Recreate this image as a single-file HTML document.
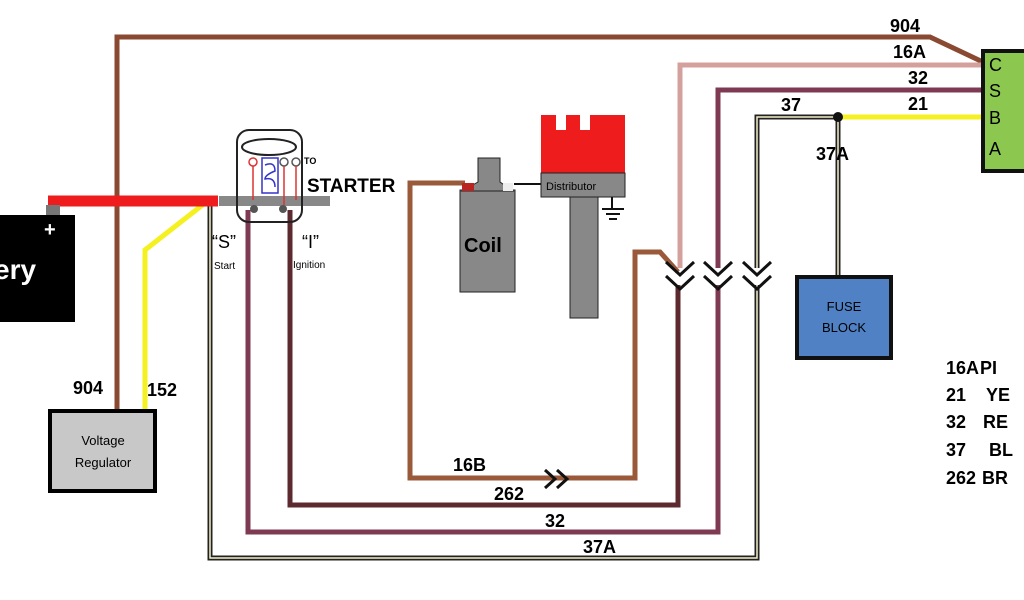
<!DOCTYPE html>
<html><head><meta charset="utf-8"><style>
html,body{margin:0;padding:0;background:#fff;width:1024px;height:600px;overflow:hidden}
text{font-family:"Liberation Sans",sans-serif;font-weight:bold}
.n{font-weight:normal}
</style></head><body>
<svg width="1024" height="600" viewBox="0 0 1024 600" xmlns="http://www.w3.org/2000/svg">
<g fill="none" stroke-linejoin="miter">
<polyline points="117,410 117,37 930,37 985,63" stroke="#8a4a32" stroke-width="5"/>
<polyline points="680,268 680,65 985,65" stroke="#d4a09c" stroke-width="5"/>
<polyline points="678,285 678,505 290,505 290,210" stroke="#5c2a2e" stroke-width="5"/>
<polyline points="718,268 718,90 985,90" stroke="#7e3a52" stroke-width="5"/>
<polyline points="718,285 718,532 248,532 248,210" stroke="#7e3a52" stroke-width="5"/>
<polyline points="757,268 757,117 838,117" stroke="#222" stroke-width="5"/>
<polyline points="757,268 757,117 838,117" stroke="#f4f2c8" stroke-width="1.5"/>
<polyline points="757,285 757,558 210,558 210,205" stroke="#222" stroke-width="5"/>
<polyline points="757,285 757,558 210,558 210,205" stroke="#f4f2c8" stroke-width="1.5"/>
<polyline points="838,117 838,275" stroke="#222" stroke-width="5"/>
<polyline points="838,117 838,275" stroke="#f4f2c8" stroke-width="1.5"/>
<line x1="838" y1="117" x2="985" y2="117" stroke="#f5f020" stroke-width="5"/>
<polyline points="465,183 410,183 410,478 635,478 635,252 660,252 678,272" stroke="#9a5a3a" stroke-width="5"/>
<polyline points="205,203 145,250 145,412" stroke="#f5f020" stroke-width="5"/>
<line x1="48" y1="201" x2="218" y2="201" stroke="#ee1c1c" stroke-width="11"/>
<rect x="46" y="205" width="14" height="10" fill="#777" stroke="none"/>
<g stroke="#111" stroke-width="3">
<polyline points="666,262 680,275 694,262"/><polyline points="666,276 680,289 694,276"/>
<polyline points="704,262 718,275 732,262"/><polyline points="704,276 718,289 732,276"/>
<polyline points="743,262 757,275 771,262"/><polyline points="743,276 757,289 771,276"/>
<polyline points="545,470 555,479 545,488"/><polyline points="557,470 567,479 557,488"/>
</g>
</g>
<circle cx="838" cy="117" r="5" fill="#111"/>
<rect x="-5" y="215" width="80" height="107" fill="#000"/>
<text x="44" y="236" fill="#fff" font-size="20">+</text>
<text x="-6" y="279" fill="#fff" font-size="28">ery</text>
<rect x="50" y="411" width="105" height="80" fill="#c8c8c8" stroke="#000" stroke-width="4"/>
<text x="103" y="445" font-size="13" text-anchor="middle" class="n">Voltage</text>
<text x="103" y="467" font-size="13" text-anchor="middle" class="n">Regulator</text>
<text x="73" y="394" font-size="18">904</text>
<text x="147" y="396" font-size="18">152</text>
<rect x="219" y="196" width="111" height="10" fill="#888"/>
<rect x="237" y="130" width="65" height="92" rx="12" fill="none" stroke="#222" stroke-width="2"/>
<ellipse cx="269" cy="147" rx="27" ry="8" fill="none" stroke="#222" stroke-width="2"/>
<g fill="none" stroke-width="1.5">
<circle cx="253" cy="162" r="4" stroke="#d33"/><circle cx="284" cy="162" r="4" stroke="#555"/><circle cx="296" cy="162" r="4" stroke="#555"/>
<rect x="262" y="158" width="16" height="35" stroke="#33c"/>
<path d="M265 165 q10 -4 10 6 q-10 4 -10 8 q10 -2 10 8" stroke="#33c"/>
<line x1="253" y1="166" x2="253" y2="200" stroke="#d33"/>
<line x1="284" y1="166" x2="284" y2="205" stroke="#d33"/>
<line x1="296" y1="166" x2="296" y2="200" stroke="#d33"/>
</g>
<circle cx="254" cy="209" r="4" fill="#555"/><circle cx="283" cy="209" r="4" fill="#555"/>
<text x="304" y="164" font-size="9">TO</text>
<text x="307" y="192" font-size="19">STARTER</text>
<text x="212" y="248" font-size="18" class="n">“S”</text>
<text x="214" y="269" font-size="10" class="n">Start</text>
<text x="302" y="248" font-size="18" class="n">“I”</text>
<text x="293" y="268" font-size="10" class="n">Ignition</text>
<rect x="460" y="190" width="55" height="102" fill="#888" stroke="#222" stroke-width="1"/>
<path d="M462 191 L478 182 L478 158 L500 158 L500 182 L513 191 Z" fill="#888" stroke="#222" stroke-width="1"/>
<rect x="462" y="183" width="12" height="8" fill="#b22"/>
<rect x="503" y="183" width="10" height="8" fill="#eee"/>
<line x1="514" y1="184" x2="543" y2="184" stroke="#111" stroke-width="2"/>
<text x="464" y="252" font-size="20">Coil</text>
<path d="M541 115 H556 V130 H566 V115 H580 V130 H590 V115 H625 V173 H541 Z" fill="#ee1c1c"/>
<rect x="541" y="173" width="84" height="24" fill="#888" stroke="#222"/>
<text x="546" y="190" font-size="11" class="n">Distributor</text>
<rect x="570" y="197" width="28" height="121" fill="#888" stroke="#222"/>
<g stroke="#111" stroke-width="2"><line x1="612" y1="197" x2="612" y2="208"/><line x1="602" y1="209" x2="624" y2="209"/><line x1="606" y1="214" x2="620" y2="214"/><line x1="609" y1="219" x2="617" y2="219"/></g>
<rect x="797" y="277" width="94" height="81" fill="#4f81c4" stroke="#111" stroke-width="4"/>
<text x="844" y="311" font-size="13" text-anchor="middle" class="n">FUSE</text>
<text x="844" y="332" font-size="13" text-anchor="middle" class="n">BLOCK</text>
<rect x="983" y="51" width="50" height="120" fill="#8cc850" stroke="#111" stroke-width="4"/>
<g font-size="18">
<text x="989" y="71" class="n">C</text><text x="989" y="97" class="n">S</text><text x="989" y="124" class="n">B</text><text x="989" y="155" class="n">A</text></g>
<g font-size="18">
<text x="890" y="32">904</text><text x="893" y="58">16A</text><text x="908" y="84">32</text><text x="908" y="110">21</text>
<text x="781" y="111">37</text><text x="816" y="160">37A</text>
<text x="453" y="471">16B</text><text x="494" y="500">262</text><text x="545" y="527">32</text><text x="583" y="553">37A</text>
<text x="946" y="374">16A</text><text x="980" y="374">PI</text>
<text x="946" y="401">21</text><text x="986" y="401">YE</text>
<text x="946" y="428">32</text><text x="983" y="428">RE</text>
<text x="946" y="456">37</text><text x="989" y="456">BL</text>
<text x="946" y="484">262</text><text x="982" y="484">BR</text>
</g>
</svg>
</body></html>
